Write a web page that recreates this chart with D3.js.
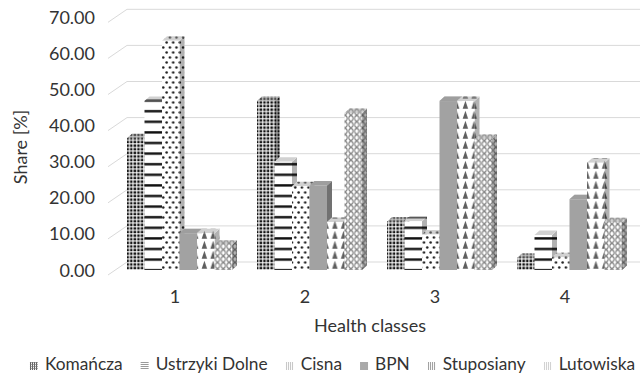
<!DOCTYPE html>
<html>
<head>
<meta charset="utf-8">
<script src="https://cdn.jsdelivr.net/npm/d3@7"></script>
<style>
  body { margin: 0; background: #fff; }
  text { font-family: Lato, "Open Sans", sans-serif; fill: #333; }
</style>
</head>
<body>
<svg id="chart" width="643" height="379"></svg>
<script>
// Share of trees in each health class, by area
const categories = ["1", "2", "3", "4"];
const seriesNames = ["Komańcza", "Ustrzyki Dolne", "Cisna", "BPN", "Stuposiany", "Lutowiska"];
const komancza      = [36.5, 46.8, 13.4, 3.3];
const ustrzykiDolne = [46.8, 30.0, 13.5, 9.7];
const cisna         = [63.5, 23.2, 9.8, 3.5];
const bpn           = [10.2, 23.4, 46.8, 19.6];
const stuposiany    = [10.2, 13.3, 46.8, 29.7];
const lutowiska     = [7.0, 43.5, 36.3, 13.2];
const yTicks = [0, 10, 20, 30, 40, 50, 60, 70];

const seriesValues = [komancza, ustrzykiDolne, cisna, bpn, stuposiany, lutowiska];
const patternIds = ["p-kom", "p-ust", "p-cis", "p-bpn", "p-stu", "p-lut"];
const swatchIds = ["s-kom", "s-ust", "s-cis", "s-bpn", "s-stu", "s-lut"];
const fontSize = "18px";
const legendFontSize = "17.3px";

const svg = d3.select("#chart");
const defs = svg.append("defs");

function pattern(id, w, h, bg = "#fff") {
  const p = defs.append("pattern").attr("id", id)
    .attr("patternUnits", "userSpaceOnUse").attr("width", w).attr("height", h);
  p.append("rect").attr("width", w).attr("height", h).attr("fill", bg);
  return p;
}
// bar fills
let p = pattern("p-kom", 3.6, 3.6);
p.append("rect").attr("x", 0.4).attr("y", 0.4).attr("width", 2.5).attr("height", 2.5).attr("fill", "#111");
p = pattern("p-ust", 10, 10.6);
p.append("rect").attr("x", 0).attr("y", 4).attr("width", 10).attr("height", 2.4).attr("fill", "#111");
p = pattern("p-cis", 6.6, 10);
p.append("circle").attr("cx", 1.6).attr("cy", 2.5).attr("r", 1.25).attr("fill", "#222");
p.append("circle").attr("cx", 4.9).attr("cy", 7.5).attr("r", 1.25).attr("fill", "#222");
pattern("p-bpn", 4, 4, "#a2a2a2");
p = pattern("p-stu", 8.7, 10);
p.append("path").attr("d", "M1.6,8.8 L4.3,0.8 L7.0,8.8 Z").attr("fill", "#5e5e5e");
p = pattern("p-lut", 5.8, 6.4);
p.append("ellipse").attr("cx", 2.9).attr("cy", 3.2).attr("rx", 2.1).attr("ry", 2.6)
  .attr("fill", "none").attr("stroke", "#7a7a7a").attr("stroke-width", 1);

// legend swatch fills
p = pattern("s-kom", 2, 2);
p.append("rect").attr("width", 1).attr("height", 2).attr("fill", "#555");
p.append("rect").attr("width", 2).attr("height", 0.6).attr("fill", "#777");
p = pattern("s-ust", 2, 2);
p.append("rect").attr("width", 2).attr("height", 1).attr("fill", "#9a9a9a");
p = pattern("s-cis", 2, 2);
p.append("rect").attr("width", 1).attr("height", 2).attr("fill", "#c4c4c4");
pattern("s-bpn", 2, 2, "#a9a9a9");
p = pattern("s-stu", 2, 2);
p.append("rect").attr("width", 1).attr("height", 2).attr("fill", "#9c9c9c");
p = pattern("s-lut", 2, 2);
p.append("rect").attr("width", 1).attr("height", 2).attr("fill", "#cfcfcf");

// scales
const y = d3.scaleLinear().domain([0, 70]).range([270, 17.3]);
const x0 = d3.scaleBand().domain(categories).range([110, 630]);
const x1 = d3.scaleBand().domain(seriesNames).range([0, 105]);
const groupInset = 17;
const depth = { dx: 5, dy: -4.5 };
const wall = { front: 108, back: 127, right: 640, up: -8, down: 5 };

// back wall + side wall gridlines
svg.append("g").selectAll("path").data(yTicks).join("path")
  .attr("d", v => `M${wall.front},${y(v) + wall.down} L${wall.back},${y(v) + wall.up} L${wall.right},${y(v) + wall.up}`)
  .attr("fill", "none").attr("stroke", "#d9d9d9").attr("stroke-width", 1);

// value axis labels
svg.append("g").selectAll("text").data(yTicks).join("text")
  .attr("x", 95).attr("y", v => y(v) + 2)
  .attr("text-anchor", "end").attr("dominant-baseline", "middle")
  .style("font-size", fontSize)
  .text(v => d3.format(".2f")(v));

// 3D columns
const bars = [];
categories.forEach((c, ci) => {
  seriesNames.forEach((s, si) => {
    bars.push({ cat: c, series: s, si, value: seriesValues[si][ci] });
  });
});

const barG = svg.append("g");
bars.forEach(d => {
  const x = x0(d.cat) + groupInset + x1(d.series);
  const w = x1.bandwidth();
  const yt = y(d.value), yb = y(0);
  const g = barG.append("g");
  const fill = `url(#${patternIds[d.si]})`;
  const side = `M${x + w},${yt} L${x + w + depth.dx},${yt + depth.dy} L${x + w + depth.dx},${yb + depth.dy} L${x + w},${yb} Z`;
  const top = `M${x},${yt} L${x + depth.dx},${yt + depth.dy} L${x + w + depth.dx},${yt + depth.dy} L${x + w},${yt} Z`;
  g.append("path").attr("d", side).attr("fill", fill);
  g.append("path").attr("d", side).attr("fill", "#000").attr("fill-opacity", 0.3);
  g.append("path").attr("d", top).attr("fill", fill);
  g.append("path").attr("d", top).attr("fill", "#9a9a9a").attr("fill-opacity", 0.45);
  g.append("rect").attr("x", x).attr("y", yt).attr("width", w).attr("height", yb - yt).attr("fill", fill);
});

// category labels
svg.append("g").selectAll("text").data(categories).join("text")
  .attr("x", c => x0(c) + x0.bandwidth() / 2).attr("y", 298)
  .attr("text-anchor", "middle").attr("dominant-baseline", "middle")
  .style("font-size", fontSize)
  .text(c => c);

// axis titles
svg.append("text").attr("x", 370).attr("y", 327)
  .attr("text-anchor", "middle").attr("dominant-baseline", "middle")
  .style("font-size", fontSize).text("Health classes");
svg.append("text").attr("transform", "translate(22,147) rotate(-90)")
  .attr("text-anchor", "middle").attr("dominant-baseline", "middle")
  .style("font-size", fontSize).text("Share [%]");

// legend: lay items out in a row, then centre the row
const legend = svg.append("g");
const swatchGap = 15, itemGap = 18;
let lx = 0;
seriesNames.forEach((s, i) => {
  legend.append("rect").attr("x", lx).attr("y", 362).attr("width", 8).attr("height", 8)
    .attr("fill", `url(#${swatchIds[i]})`);
  const t = legend.append("text").attr("x", lx + swatchGap).attr("y", 366)
    .attr("dominant-baseline", "middle").style("font-size", legendFontSize).text(s);
  lx += swatchGap + t.node().getComputedTextLength() + itemGap;
});
const legendWidth = lx - itemGap;
legend.attr("transform", `translate(${(25 + 640 - legendWidth) / 2},0)`);
</script>
</body>
</html>
